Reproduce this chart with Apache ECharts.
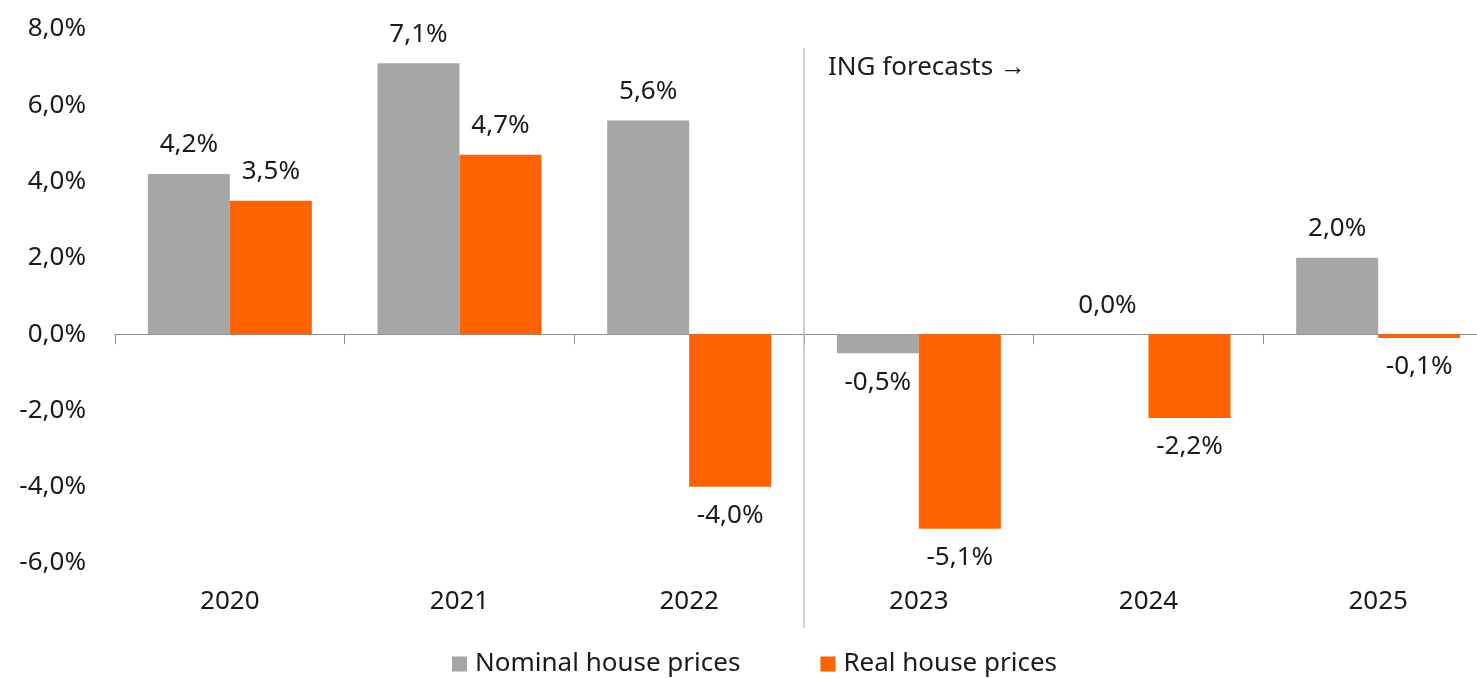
<!DOCTYPE html>
<html>
<head>
<meta charset="utf-8">
<script src="https://cdn.jsdelivr.net/npm/echarts@6/dist/echarts.min.js"></script>
<style>
  html, body { margin: 0; padding: 0; background: #fff; }
  #chart { width: 1477px; height: 678px; }
</style>
</head>
<body>
<div id="chart"></div>
<script>
// Annual house price growth, nominal vs real (%)
const years = ['2020', '2021', '2022', '2023', '2024', '2025'];
const nominalPrices = [4.2, 7.1, 5.6, -0.5, 0.0, 2.0];
const realPrices = [3.5, 4.7, -4.0, -5.1, -2.2, -0.1];
const yTicks = { min: -6, max: 8, step: 2 };
const forecastStartIndex = 3; // boundary before 2023
const forecastNote = 'ING forecasts \u2192';

const FONT = '"Noto Sans", sans-serif';
const FS = 26;
const TEXT = '#1a1a1a';
const GREY = '#a6a6a6';
const ORANGE = '#ff6200';

const pct = v => v.toFixed(1).replace('.', ',') + '%';

function barData(values) {
  return values.map(v => ({
    value: v,
    label: { position: v < 0 ? 'bottom' : 'top' }
  }));
}

const labelStyle = {
  show: true,
  distance: 16,
  fontFamily: FONT,
  fontSize: FS,
  color: TEXT,
  formatter: p => pct(p.value)
};

const chart = echarts.init(document.getElementById('chart'));
chart.setOption({
  animation: false,
  textStyle: { fontFamily: FONT },
  // the plot runs slightly past the right edge of the canvas
  grid: {
    left: 115, width: 1378, top: 29, bottom: 115,
    containLabel: false,
    outerBoundsMode: 'none'
  },
  legend: {
    top: 646,
    left: 447,
    icon: 'rect',
    itemWidth: 15,
    itemHeight: 15,
    itemGap: 80,
    textStyle: { fontFamily: FONT, fontSize: FS, color: TEXT, padding: [0, 0, 0, 3] },
    data: ['Nominal house prices', 'Real house prices']
  },
  xAxis: [
    {
      // axis line through zero with category boundary ticks
      type: 'category',
      data: years,
      axisLine: { onZero: true, lineStyle: { color: '#8c8c8c', width: 1 } },
      axisTick: { show: true, length: 10, lineStyle: { color: '#8c8c8c' } },
      axisLabel: { show: false },
      splitLine: { show: false }
    },
    {
      // category names along the bottom
      type: 'category',
      data: years,
      position: 'bottom',
      axisLine: { show: false, onZero: false },
      axisTick: { show: false },
      axisLabel: { margin: 26, fontFamily: FONT, fontSize: FS, color: TEXT },
      splitLine: { show: false }
    },
    {
      // continuous index scale for the forecast divider
      type: 'value',
      min: 0,
      max: years.length,
      show: false
    }
  ],
  yAxis: {
    type: 'value',
    min: yTicks.min,
    max: yTicks.max,
    interval: yTicks.step,
    axisLine: { show: false },
    axisTick: { show: false },
    splitLine: { show: false },
    axisLabel: {
      margin: 29,
      fontFamily: FONT,
      fontSize: FS,
      color: TEXT,
      formatter: v => pct(v)
    }
  },
  series: [
    {
      name: 'Nominal house prices',
      type: 'bar',
      xAxisIndex: 0,
      data: barData(nominalPrices),
      itemStyle: { color: GREY },
      barGap: '0%',
      barCategoryGap: '28.6%',
      label: labelStyle
    },
    {
      name: 'Real house prices',
      type: 'bar',
      xAxisIndex: 0,
      data: barData(realPrices),
      itemStyle: { color: ORANGE },
      barGap: '0%',
      barCategoryGap: '28.6%',
      label: labelStyle
    },
    {
      // vertical divider marking the start of the forecast period
      type: 'custom',
      xAxisIndex: 2,
      silent: true,
      clip: false,
      data: [[forecastStartIndex, 7.5, -7.7]],
      renderItem: (params, api) => {
        const top = api.coord([api.value(0), api.value(1)]);
        const bottom = api.coord([api.value(0), api.value(2)]);
        const textAt = api.coord([api.value(0), 7.0]);
        return {
          type: 'group',
          children: [
            {
              type: 'line',
              shape: { x1: top[0], y1: top[1], x2: bottom[0], y2: bottom[1] },
              style: { stroke: '#bfbfbf', lineWidth: 1.5 }
            },
            {
              type: 'text',
              x: textAt[0] + 24,
              y: textAt[1],
              style: {
                text: forecastNote,
                font: FS + 'px ' + FONT,
                fill: TEXT,
                align: 'left',
                verticalAlign: 'middle'
              }
            }
          ]
        };
      }
    }
  ]
});
</script>
</body>
</html>
